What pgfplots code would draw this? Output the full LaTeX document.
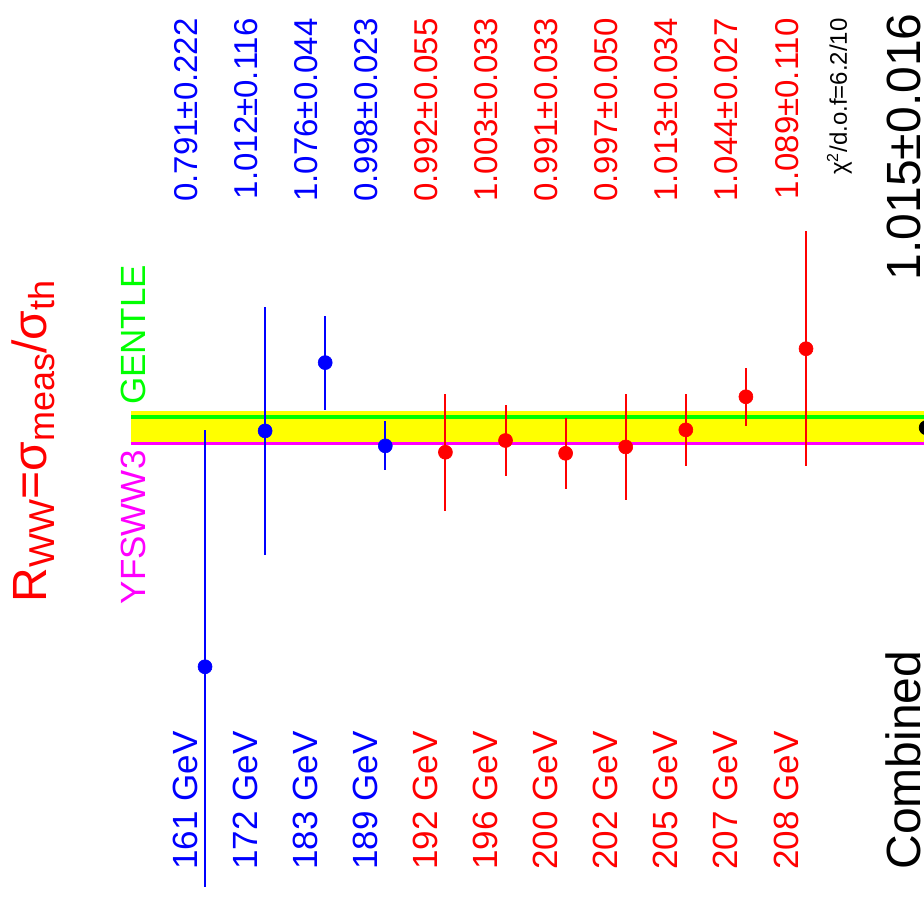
\documentclass[border=0pt]{standalone}
\usepackage{fontspec}
\setmainfont{Liberation Sans}
\usepackage{pgfplots}
\usepackage{pgfplotstable}
\pgfplotsset{compat=1.18}
\definecolor{cblue}{RGB}{0,0,255}
\definecolor{cred}{RGB}{255,0,0}
\definecolor{cmag}{RGB}{255,0,255}
\definecolor{cgreen}{RGB}{0,255,0}
\definecolor{cyellow}{RGB}{255,255,0}

\pgfplotstableread{
i val err
0 0.791 0.222
1 1.012 0.116
2 1.076 0.044
3 0.998 0.023
}\lowtab
\pgfplotstableread{
i val err
4 0.992 0.055
5 1.003 0.033
6 0.991 0.033
7 0.997 0.050
8 1.013 0.034
9 1.044 0.027
10 1.089 0.110
}\hightab
\pgfplotstableread{
i val
12 1.015
}\combtab

\begin{document}
\begin{tikzpicture}[
  elab/.style={rotate=90, anchor=base west, inner sep=0pt, font=\fontsize{17.5}{20}\selectfont},
  vlab/.style={rotate=90, anchor=base east, inner sep=0pt, font=\fontsize{16.5}{19}\selectfont},
]
\begin{axis}[
  at={(0,0)}, anchor=south west,
  scale only axis, width=478.1pt, height=443pt,
  xmin=-3.411, xmax=12.5, ymin=0.5855, ymax=1.4158,
  hide axis,
]
\coordinate (bl) at (axis cs:-3.411,0.5855);
\coordinate (tr) at (axis cs:11.963,1.4158);
% combined band
\addplot[fill=cyellow, draw=none] coordinates {(-1.231,0.9988) (12.5,0.9988) (12.5,1.0306) (-1.231,1.0306)} -- cycle;
\addplot[cgreen, line width=2pt] coordinates {(-1.231,1.0253) (12.5,1.0253)};
\addplot[cmag, line width=1.5pt] coordinates {(-1.231,1.0) (12.5,1.0)};
% measurements
\addplot[cblue, only marks, mark=*, mark size=3.5pt, mark options={fill=cblue, draw=cblue, line width=0.3pt},
  error bars/.cd, y dir=both, y explicit, error mark=none, error bar style={line width=1pt, cblue}]
  table[x=i, y=val, y error=err]{\lowtab};
\addplot[cred, only marks, mark=*, mark size=3.5pt, mark options={fill=cred, draw=cred, line width=0.3pt},
  error bars/.cd, y dir=both, y explicit, error mark=none, error bar style={line width=1pt, cred}]
  table[x=i, y=val, y error=err]{\hightab};
\addplot[black, only marks, mark=*, mark size=3.5pt, mark options={fill=black}]
  table[x=i, y=val]{\combtab};

% title
\node[rotate=90, anchor=base, inner sep=0pt, text=cred, font=\fontsize{24}{28}\selectfont] at (axis cs:-2.629,1.002)
  {R\raisebox{-4pt}{\fontsize{18}{20}\selectfont WW}=σ\raisebox{-4pt}{\fontsize{18}{20}\selectfont meas}/σ\raisebox{-4pt}{\fontsize{18}{20}\selectfont th}};
% model labels
\node[rotate=90, anchor=base east, inner sep=0pt, text=cmag, font=\fontsize{17.5}{20}\selectfont] at (axis cs:-0.998,0.994) {YFSWW3};
\node[rotate=90, anchor=base west, inner sep=0pt, text=cgreen, font=\fontsize{17.5}{20}\selectfont] at (axis cs:-0.998,1.036) {GENTLE};
% energy labels
\node[elab, text=cblue] at (axis cs:-0.133,0.6005) {161 GeV};
\node[elab, text=cblue] at (axis cs:0.867,0.6005) {172 GeV};
\node[elab, text=cblue] at (axis cs:1.867,0.6005) {183 GeV};
\node[elab, text=cblue] at (axis cs:2.867,0.6005) {189 GeV};
\node[elab, text=cred] at (axis cs:3.867,0.6005) {192 GeV};
\node[elab, text=cred] at (axis cs:4.867,0.6005) {196 GeV};
\node[elab, text=cred] at (axis cs:5.867,0.6005) {200 GeV};
\node[elab, text=cred] at (axis cs:6.867,0.6005) {202 GeV};
\node[elab, text=cred] at (axis cs:7.867,0.6005) {205 GeV};
\node[elab, text=cred] at (axis cs:8.867,0.6005) {207 GeV};
\node[elab, text=cred] at (axis cs:9.867,0.6005) {208 GeV};
% value labels
\node[vlab, text=cblue] at (axis cs:-0.133,1.399) {0.791±0.222};
\node[vlab, text=cblue] at (axis cs:0.867,1.399) {1.012±0.116};
\node[vlab, text=cblue] at (axis cs:1.867,1.399) {1.076±0.044};
\node[vlab, text=cblue] at (axis cs:2.867,1.399) {0.998±0.023};
\node[vlab, text=cred] at (axis cs:3.867,1.399) {0.992±0.055};
\node[vlab, text=cred] at (axis cs:4.867,1.399) {1.003±0.033};
\node[vlab, text=cred] at (axis cs:5.867,1.399) {0.991±0.033};
\node[vlab, text=cred] at (axis cs:6.867,1.399) {0.997±0.050};
\node[vlab, text=cred] at (axis cs:7.867,1.399) {1.013±0.034};
\node[vlab, text=cred] at (axis cs:8.867,1.399) {1.044±0.027};
\node[vlab, text=cred] at (axis cs:9.867,1.399) {1.089±0.110};
% combined
\node[rotate=90, anchor=base east, inner sep=0pt, font=\fontsize{12}{14}\selectfont] at (axis cs:10.68,1.399) {χ\textsuperscript{2}/d.o.f=6.2/10};
\node[rotate=90, anchor=base east, inner sep=0pt, font=\fontsize{24}{28}\selectfont] at (axis cs:11.9,1.4035) {1.015±0.016};
\node[rotate=90, anchor=base west, inner sep=0pt, font=\fontsize{24}{28}\selectfont] at (axis cs:11.9,0.6005) {Combined};
\end{axis}
\pgfresetboundingbox
\path[use as bounding box] (bl) ++(0,-5.5pt) rectangle (tr);
\end{tikzpicture}
\end{document}
